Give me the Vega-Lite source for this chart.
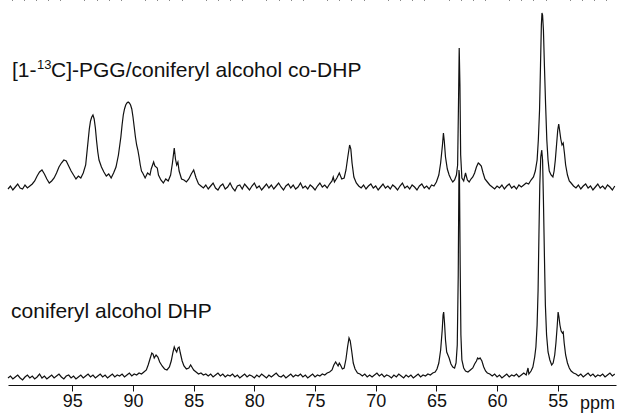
{
  "$schema": "https://vega.github.io/schema/vega-lite/v6.json",
  "width": 608,
  "height": 385,
  "autosize": {"type": "none"},
  "padding": {"left": 8, "top": 0, "right": 2, "bottom": 29},
  "background": "white",
  "config": {"view": {"stroke": null}, "font": "Liberation Sans"},
  "datasets": {
    "upper": [
      {"p":100.3,"v":196},{"p":100.1,"v":199},{"p":99.9,"v":195},{"p":99.7,"v":198},{"p":99.5,"v":201},{"p":99.3,"v":197},{"p":99.1,"v":196},{"p":98.9,"v":200},{"p":98.7,"v":197},{"p":98.5,"v":199},{"p":98.3,"v":201},
      {"p":98.1,"v":204},{"p":97.9,"v":209},{"p":97.7,"v":213},{"p":97.5,"v":215},{"p":97.3,"v":211},{"p":97.1,"v":206},{"p":96.9,"v":202},{"p":96.7,"v":204},{"p":96.5,"v":207},{"p":96.3,"v":212},{"p":96.1,"v":218},{"p":95.9,"v":222},{"p":95.7,"v":225},{"p":95.5,"v":224},{"p":95.3,"v":219},{"p":95.1,"v":214},{"p":94.9,"v":210},{"p":94.7,"v":206},{"p":94.5,"v":209},{"p":94.3,"v":207},{"p":94.1,"v":212},{"p":93.9,"v":220},{"p":93.8,"v":232},{"p":93.7,"v":244},{"p":93.6,"v":256},{"p":93.5,"v":264},{"p":93.4,"v":268},{"p":93.3,"v":270},{"p":93.2,"v":266},{"p":93.1,"v":257},{"p":93.0,"v":244},{"p":92.9,"v":233},{"p":92.8,"v":225},{"p":92.6,"v":218},{"p":92.4,"v":213},{"p":92.2,"v":209},{"p":92.0,"v":211},{"p":91.8,"v":207},{"p":91.6,"v":212},{"p":91.4,"v":218},{"p":91.2,"v":230},{"p":91.0,"v":248},{"p":90.9,"v":260},{"p":90.8,"v":270},{"p":90.7,"v":276},{"p":90.6,"v":280},{"p":90.5,"v":282},{"p":90.4,"v":283},{"p":90.3,"v":282},{"p":90.2,"v":280},{"p":90.1,"v":276},{"p":90.0,"v":268},{"p":89.9,"v":258},{"p":89.8,"v":248},{"p":89.7,"v":240},{"p":89.6,"v":235},{"p":89.5,"v":228},{"p":89.4,"v":220},{"p":89.3,"v":214},{"p":89.2,"v":212},{"p":89.0,"v":207},{"p":88.8,"v":212},{"p":88.6,"v":210},{"p":88.5,"v":216},{"p":88.3,"v":223},{"p":88.2,"v":219},{"p":88.0,"v":217},{"p":87.9,"v":210},{"p":87.7,"v":205},{"p":87.5,"v":202},{"p":87.3,"v":206},{"p":87.1,"v":204},{"p":86.9,"v":210},{"p":86.75,"v":222},{"p":86.6,"v":237},{"p":86.5,"v":226},{"p":86.4,"v":220},{"p":86.3,"v":223},{"p":86.2,"v":214},{"p":86.0,"v":206},{"p":85.8,"v":205},{"p":85.6,"v":203},{"p":85.4,"v":206},{"p":85.2,"v":211},{"p":85.0,"v":215},{"p":84.8,"v":207},{"p":84.6,"v":201},{"p":84.4,"v":199},
      {"p":84.2,"v":197},{"p":84.0,"v":200},{"p":83.8,"v":196},{"p":83.6,"v":199},{"p":83.4,"v":202},{"p":83.2,"v":197},{"p":83.0,"v":195},{"p":82.8,"v":199},{"p":82.6,"v":201},{"p":82.4,"v":196},{"p":82.2,"v":198},{"p":82.0,"v":202},{"p":81.8,"v":197},{"p":81.6,"v":194},{"p":81.4,"v":199},{"p":81.2,"v":200},{"p":81.0,"v":196},{"p":80.8,"v":201},{"p":80.6,"v":198},{"p":80.4,"v":195},{"p":80.2,"v":199},{"p":80.0,"v":202},{"p":79.8,"v":197},{"p":79.6,"v":199},{"p":79.4,"v":195},{"p":79.2,"v":198},{"p":79.0,"v":201},{"p":78.8,"v":197},{"p":78.6,"v":200},{"p":78.4,"v":196},{"p":78.2,"v":199},{"p":78.0,"v":202},{"p":77.8,"v":198},{"p":77.6,"v":195},{"p":77.4,"v":199},{"p":77.2,"v":201},{"p":77.0,"v":197},{"p":76.8,"v":200},{"p":76.6,"v":196},{"p":76.4,"v":198},{"p":76.2,"v":202},{"p":76.0,"v":197},{"p":75.8,"v":199},{"p":75.6,"v":196},{"p":75.4,"v":200},{"p":75.2,"v":198},{"p":75.0,"v":195},{"p":74.8,"v":199},{"p":74.6,"v":202},{"p":74.4,"v":198},{"p":74.2,"v":200},{"p":74.0,"v":197},
      {"p":73.8,"v":201},{"p":73.6,"v":204},{"p":73.5,"v":208},{"p":73.4,"v":203},{"p":73.2,"v":207},{"p":73.0,"v":212},{"p":72.8,"v":206},{"p":72.6,"v":207},{"p":72.45,"v":215},{"p":72.3,"v":228},{"p":72.15,"v":240},{"p":72.05,"v":236},{"p":71.95,"v":222},{"p":71.8,"v":208},{"p":71.6,"v":202},{"p":71.4,"v":199},
      {"p":71.2,"v":197},{"p":71.0,"v":200},{"p":70.8,"v":196},{"p":70.6,"v":199},{"p":70.4,"v":201},{"p":70.2,"v":197},{"p":70.0,"v":199},{"p":69.8,"v":195},{"p":69.6,"v":198},{"p":69.4,"v":201},{"p":69.2,"v":197},{"p":69.0,"v":199},{"p":68.8,"v":196},{"p":68.6,"v":200},{"p":68.4,"v":198},{"p":68.2,"v":195},{"p":68.0,"v":199},{"p":67.8,"v":202},{"p":67.6,"v":197},{"p":67.4,"v":199},{"p":67.2,"v":196},{"p":67.0,"v":200},{"p":66.8,"v":198},{"p":66.6,"v":195},{"p":66.4,"v":199},{"p":66.2,"v":201},{"p":66.0,"v":197},{"p":65.8,"v":199},{"p":65.6,"v":196},{"p":65.4,"v":200},{"p":65.2,"v":199},{"p":65.0,"v":203},
      {"p":64.8,"v":210},{"p":64.65,"v":222},{"p":64.5,"v":240},{"p":64.42,"v":252},{"p":64.35,"v":244},{"p":64.25,"v":228},{"p":64.1,"v":216},{"p":63.95,"v":210},{"p":63.8,"v":206},{"p":63.65,"v":203},{"p":63.5,"v":205},{"p":63.35,"v":210},{"p":63.25,"v":220},{"p":63.18,"v":280},{"p":63.12,"v":337},{"p":63.06,"v":300},{"p":63.0,"v":230},{"p":62.9,"v":207},{"p":62.75,"v":204},{"p":62.6,"v":212},{"p":62.45,"v":205},{"p":62.3,"v":203},{"p":62.15,"v":206},{"p":62.0,"v":208},{"p":61.85,"v":212},{"p":61.7,"v":218},{"p":61.55,"v":222},{"p":61.45,"v":221},{"p":61.3,"v":219},{"p":61.15,"v":212},{"p":61.0,"v":206},{"p":60.8,"v":203},{"p":60.6,"v":200},{"p":60.4,"v":198},{"p":60.2,"v":196},
      {"p":60.0,"v":199},{"p":59.8,"v":197},{"p":59.6,"v":200},{"p":59.4,"v":196},{"p":59.2,"v":199},{"p":59.0,"v":201},{"p":58.8,"v":197},{"p":58.6,"v":199},{"p":58.4,"v":196},{"p":58.2,"v":200},{"p":58.0,"v":198},{"p":57.8,"v":200},{"p":57.6,"v":202},{"p":57.4,"v":201},{"p":57.2,"v":205},{"p":57.0,"v":208},{"p":56.85,"v":214},{"p":56.7,"v":225},{"p":56.6,"v":245},{"p":56.5,"v":275},{"p":56.42,"v":320},{"p":56.35,"v":360},{"p":56.3,"v":372},{"p":56.25,"v":370},{"p":56.18,"v":355},{"p":56.1,"v":320},{"p":56.0,"v":280},{"p":55.9,"v":245},{"p":55.8,"v":225},{"p":55.7,"v":214},{"p":55.55,"v":210},{"p":55.4,"v":208},{"p":55.3,"v":214},{"p":55.2,"v":225},{"p":55.1,"v":240},{"p":55.0,"v":255},{"p":54.92,"v":261},{"p":54.85,"v":255},{"p":54.75,"v":246},{"p":54.65,"v":240},{"p":54.55,"v":242},{"p":54.45,"v":232},{"p":54.35,"v":220},{"p":54.2,"v":210},{"p":54.05,"v":204},{"p":53.9,"v":202},{"p":53.7,"v":199},
      {"p":53.5,"v":197},{"p":53.3,"v":200},{"p":53.1,"v":196},{"p":52.9,"v":199},{"p":52.7,"v":201},{"p":52.5,"v":197},{"p":52.3,"v":199},{"p":52.1,"v":195},{"p":51.9,"v":198},{"p":51.7,"v":201},{"p":51.5,"v":197},{"p":51.3,"v":199},{"p":51.1,"v":196},{"p":50.9,"v":200},{"p":50.7,"v":198},{"p":50.5,"v":195},{"p":50.3,"v":199}
    ],
    "lower": [
      {"p":100.3,"v":7},{"p":100.1,"v":9},{"p":99.9,"v":6},{"p":99.7,"v":8},{"p":99.5,"v":10},{"p":99.3,"v":7},{"p":99.1,"v":5},{"p":98.9,"v":8},{"p":98.7,"v":10},{"p":98.5,"v":7},{"p":98.3,"v":9},{"p":98.1,"v":6},{"p":97.9,"v":8},{"p":97.7,"v":11},{"p":97.5,"v":7},{"p":97.3,"v":9},{"p":97.1,"v":6},{"p":96.9,"v":8},{"p":96.7,"v":10},{"p":96.5,"v":7},{"p":96.3,"v":9},{"p":96.1,"v":11},{"p":95.9,"v":8},{"p":95.7,"v":6},{"p":95.5,"v":9},{"p":95.3,"v":10},{"p":95.1,"v":7},{"p":94.9,"v":9},{"p":94.7,"v":6},{"p":94.5,"v":8},{"p":94.3,"v":10},{"p":94.1,"v":7},{"p":93.9,"v":9},{"p":93.7,"v":11},{"p":93.5,"v":8},{"p":93.3,"v":10},{"p":93.1,"v":7},{"p":92.9,"v":9},{"p":92.7,"v":11},{"p":92.5,"v":8},{"p":92.3,"v":10},{"p":92.1,"v":7},{"p":91.9,"v":9},{"p":91.7,"v":11},{"p":91.5,"v":8},{"p":91.3,"v":10},{"p":91.1,"v":9},{"p":90.9,"v":11},{"p":90.7,"v":8},{"p":90.5,"v":10},{"p":90.3,"v":12},{"p":90.1,"v":9},{"p":89.9,"v":11},{"p":89.7,"v":10},{"p":89.5,"v":12},{"p":89.3,"v":11},{"p":89.1,"v":13},
      {"p":88.9,"v":15},{"p":88.75,"v":20},{"p":88.6,"v":26},{"p":88.45,"v":32},{"p":88.35,"v":31},{"p":88.25,"v":27},{"p":88.1,"v":30},{"p":87.95,"v":28},{"p":87.8,"v":23},{"p":87.6,"v":19},{"p":87.4,"v":16},{"p":87.2,"v":15},{"p":87.0,"v":18},{"p":86.85,"v":24},{"p":86.7,"v":33},{"p":86.6,"v":38},{"p":86.5,"v":35},{"p":86.4,"v":33},{"p":86.3,"v":37},{"p":86.2,"v":38},{"p":86.1,"v":32},{"p":85.95,"v":24},{"p":85.8,"v":19},{"p":85.6,"v":16},{"p":85.4,"v":17},{"p":85.25,"v":20},{"p":85.15,"v":18},{"p":85.0,"v":15},{"p":84.8,"v":13},{"p":84.6,"v":11},{"p":84.4,"v":12},{"p":84.2,"v":10},
      {"p":84.0,"v":11},{"p":83.8,"v":9},{"p":83.6,"v":11},{"p":83.4,"v":8},{"p":83.2,"v":10},{"p":83.0,"v":12},{"p":82.8,"v":9},{"p":82.6,"v":11},{"p":82.4,"v":8},{"p":82.2,"v":10},{"p":82.0,"v":9},{"p":81.8,"v":11},{"p":81.6,"v":8},{"p":81.4,"v":10},{"p":81.2,"v":7},{"p":81.0,"v":9},{"p":80.8,"v":11},{"p":80.6,"v":8},{"p":80.4,"v":10},{"p":80.2,"v":9},{"p":80.0,"v":7},{"p":79.8,"v":10},{"p":79.6,"v":8},{"p":79.4,"v":11},{"p":79.2,"v":9},{"p":79.0,"v":7},{"p":78.8,"v":10},{"p":78.6,"v":8},{"p":78.4,"v":10},{"p":78.2,"v":12},{"p":78.0,"v":9},{"p":77.8,"v":8},{"p":77.6,"v":10},{"p":77.4,"v":7},{"p":77.2,"v":9},{"p":77.0,"v":11},{"p":76.8,"v":8},{"p":76.6,"v":10},{"p":76.4,"v":9},{"p":76.2,"v":11},{"p":76.0,"v":8},{"p":75.8,"v":10},{"p":75.6,"v":7},{"p":75.4,"v":9},{"p":75.2,"v":11},{"p":75.0,"v":8},{"p":74.8,"v":10},{"p":74.6,"v":9},{"p":74.4,"v":11},{"p":74.2,"v":10},{"p":74.0,"v":12},
      {"p":73.8,"v":13},{"p":73.6,"v":15},{"p":73.45,"v":20},{"p":73.3,"v":23},{"p":73.2,"v":21},{"p":73.1,"v":19},{"p":73.0,"v":22},{"p":72.9,"v":20},{"p":72.75,"v":16},{"p":72.6,"v":17},{"p":72.45,"v":26},{"p":72.32,"v":38},{"p":72.2,"v":47},{"p":72.1,"v":44},{"p":71.98,"v":34},{"p":71.85,"v":22},{"p":71.7,"v":16},{"p":71.5,"v":12},{"p":71.3,"v":11},
      {"p":71.1,"v":9},{"p":70.9,"v":11},{"p":70.7,"v":8},{"p":70.5,"v":10},{"p":70.3,"v":8},{"p":70.1,"v":10},{"p":69.9,"v":12},{"p":69.7,"v":9},{"p":69.5,"v":11},{"p":69.3,"v":8},{"p":69.1,"v":10},{"p":68.9,"v":9},{"p":68.7,"v":7},{"p":68.5,"v":10},{"p":68.3,"v":8},{"p":68.1,"v":11},{"p":67.9,"v":9},{"p":67.7,"v":7},{"p":67.5,"v":10},{"p":67.3,"v":8},{"p":67.1,"v":10},{"p":66.9,"v":7},{"p":66.7,"v":9},{"p":66.5,"v":11},{"p":66.3,"v":8},{"p":66.1,"v":10},{"p":65.9,"v":9},{"p":65.7,"v":11},{"p":65.5,"v":10},{"p":65.3,"v":12},{"p":65.1,"v":13},
      {"p":64.95,"v":16},{"p":64.8,"v":22},{"p":64.65,"v":35},{"p":64.52,"v":55},{"p":64.45,"v":70},{"p":64.4,"v":73},{"p":64.33,"v":62},{"p":64.25,"v":45},{"p":64.15,"v":33},{"p":64.05,"v":30},{"p":63.95,"v":27},{"p":63.8,"v":21},{"p":63.65,"v":18},{"p":63.5,"v":17},{"p":63.38,"v":22},{"p":63.28,"v":40},{"p":63.2,"v":110},{"p":63.14,"v":215},{"p":63.1,"v":210},{"p":63.04,"v":120},{"p":62.98,"v":50},{"p":62.9,"v":25},{"p":62.75,"v":17},{"p":62.6,"v":14},{"p":62.4,"v":13},{"p":62.2,"v":15},{"p":62.0,"v":17},{"p":61.85,"v":21},{"p":61.7,"v":24},{"p":61.6,"v":27},{"p":61.5,"v":26},{"p":61.4,"v":27},{"p":61.25,"v":24},{"p":61.1,"v":18},{"p":60.95,"v":14},{"p":60.8,"v":12},{"p":60.6,"v":11},
      {"p":60.4,"v":9},{"p":60.2,"v":11},{"p":60.0,"v":8},{"p":59.8,"v":10},{"p":59.6,"v":7},{"p":59.4,"v":9},{"p":59.2,"v":11},{"p":59.0,"v":8},{"p":58.8,"v":10},{"p":58.6,"v":9},{"p":58.4,"v":11},{"p":58.2,"v":8},{"p":58.0,"v":10},{"p":57.8,"v":12},{"p":57.6,"v":10},{"p":57.45,"v":17},{"p":57.38,"v":11},{"p":57.2,"v":14},{"p":57.05,"v":18},{"p":56.9,"v":28},{"p":56.8,"v":38},{"p":56.7,"v":60},{"p":56.62,"v":95},{"p":56.55,"v":150},{"p":56.48,"v":200},{"p":56.4,"v":228},{"p":56.32,"v":235},{"p":56.25,"v":225},{"p":56.18,"v":185},{"p":56.1,"v":130},{"p":56.02,"v":80},{"p":55.92,"v":50},{"p":55.8,"v":33},{"p":55.65,"v":25},{"p":55.5,"v":20},{"p":55.38,"v":22},{"p":55.25,"v":30},{"p":55.15,"v":42},{"p":55.05,"v":58},{"p":54.97,"v":73},{"p":54.9,"v":68},{"p":54.82,"v":60},{"p":54.72,"v":54},{"p":54.62,"v":52},{"p":54.55,"v":53},{"p":54.47,"v":42},{"p":54.35,"v":30},{"p":54.2,"v":22},{"p":54.05,"v":17},{"p":53.9,"v":14},{"p":53.7,"v":12},{"p":53.5,"v":11},
      {"p":53.3,"v":9},{"p":53.1,"v":11},{"p":52.9,"v":8},{"p":52.7,"v":10},{"p":52.5,"v":12},{"p":52.3,"v":9},{"p":52.1,"v":11},{"p":51.9,"v":8},{"p":51.7,"v":10},{"p":51.5,"v":9},{"p":51.3,"v":11},{"p":51.1,"v":8},{"p":50.9,"v":10},{"p":50.7,"v":12},{"p":50.5,"v":9},{"p":50.3,"v":11}
    ],
    "labels": [
      {"p": 99.97, "v": 308, "part": "a"},
      {"p": 100.05, "v": 67, "part": "b"}
    ]
  },
  "layer": [
    {
      "data": {"name": "upper"},
      "mark": {"type": "line", "color": "#111111", "strokeWidth": 1.2, "clip": false},
      "encoding": {
        "x": {"field": "p", "type": "quantitative",
              "scale": {"domain": [50.2, 100.3], "reverse": true, "nice": false, "zero": false},
              "axis": {"values": [95, 90, 85, 80, 75, 70, 65, 60, 55], "tickSize": 6, "tickColor": "#111111", "tickWidth": 1,
                       "domainColor": "#111111", "domainWidth": 1, "grid": false,
                       "labelFontSize": 18, "labelColor": "#111111", "labelFont": "Liberation Sans", "labelPadding": 1,
                       "title": "ppm", "titleX": 589, "titleY": 23, "titleBaseline": "alphabetic", "titleAlign": "center",
                       "titleFontSize": 18, "titleFontWeight": "normal", "titleColor": "#111111", "titleFont": "Liberation Sans"}},
        "y": {"field": "v", "type": "quantitative", "scale": {"domain": [0, 385], "nice": false, "zero": false}, "axis": null}
      }
    },
    {
      "data": {"name": "lower"},
      "mark": {"type": "line", "color": "#111111", "strokeWidth": 1.2, "clip": false},
      "encoding": {
        "x": {"field": "p", "type": "quantitative",
              "axis": {"values": [51,52,53,54,56,57,58,59,61,62,63,64,66,67,68,69,71,72,73,74,76,77,78,79,81,82,83,84,86,87,88,89,91,92,93,94,96,97,98,99,100],
                       "tickSize": 3, "tickColor": "#111111", "tickWidth": 1, "labels": false, "domain": false, "grid": false, "title": null}},
        "y": {"field": "v", "type": "quantitative", "axis": null}
      }
    },
    {
      "data": {"name": "labels"},
      "transform": [{"filter": "datum.part == 'a'"}],
      "mark": {"type": "text", "text": "[1-", "align": "left", "baseline": "alphabetic", "fontSize": 21, "font": "Liberation Sans", "color": "#111111"},
      "encoding": {
        "x": {"field": "p", "type": "quantitative", "axis": null},
        "y": {"field": "v", "type": "quantitative", "axis": null}
      }
    },
    {
      "data": {"name": "labels"},
      "transform": [{"filter": "datum.part == 'a'"}],
      "mark": {"type": "text", "text": "13", "align": "left", "baseline": "alphabetic", "fontSize": 13, "dx": 25, "dy": -8, "font": "Liberation Sans", "color": "#111111"},
      "encoding": {
        "x": {"field": "p", "type": "quantitative", "axis": null},
        "y": {"field": "v", "type": "quantitative", "axis": null}
      }
    },
    {
      "data": {"name": "labels"},
      "transform": [{"filter": "datum.part == 'a'"}],
      "mark": {"type": "text", "text": "C]-PGG/coniferyl alcohol co-DHP", "align": "left", "baseline": "alphabetic", "fontSize": 21, "dx": 39, "font": "Liberation Sans", "color": "#111111"},
      "encoding": {
        "x": {"field": "p", "type": "quantitative", "axis": null},
        "y": {"field": "v", "type": "quantitative", "axis": null}
      }
    },
    {
      "data": {"name": "labels"},
      "transform": [{"filter": "datum.part == 'b'"}],
      "mark": {"type": "text", "text": "coniferyl alcohol DHP", "align": "left", "baseline": "alphabetic", "fontSize": 21, "font": "Liberation Sans", "color": "#111111"},
      "encoding": {
        "x": {"field": "p", "type": "quantitative", "axis": null},
        "y": {"field": "v", "type": "quantitative", "axis": null}
      }
    }
  ],
  "resolve": {"axis": {"x": "independent"}}
}
